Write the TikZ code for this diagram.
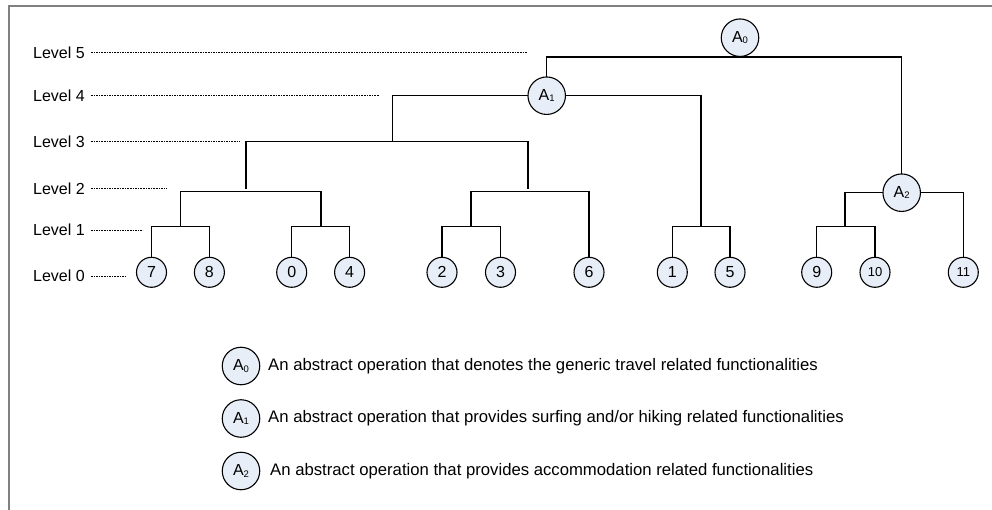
\documentclass[tikz,border=0pt]{standalone}
\usepackage{fontspec}
\setmainfont{Liberation Sans}
\definecolor{nodefill}{RGB}{232,238,247}
\definecolor{framegray}{RGB}{128,128,128}
\newcommand{\Asub}[1]{A\raisebox{-1.2pt}{\fontsize{9.5}{9.5}\selectfont #1}}
\begin{document}
\begin{tikzpicture}[x=1pt,y=-1pt,
  leaf/.style={circle, draw=black, fill=nodefill, line width=1.1pt, minimum size=30pt, inner sep=0pt, font=\fontsize{16}{16}\selectfont},
  smallleaf/.style={leaf, font=\fontsize{13}{13}\selectfont},
  abst/.style={leaf, minimum size=37.5pt, font=\fontsize{16}{16}\selectfont},
  link/.style={line width=1.3pt, line cap=rect},
  lvl/.style={anchor=west, inner sep=0pt, font=\fontsize{16}{16}\selectfont},
  dotl/.style={line width=0.5pt, dash pattern=on 1.6pt off 1pt},
  legtext/.style={anchor=west, inner sep=0pt, font=\fontsize{16.7}{16.7}\selectfont}]
\useasboundingbox (0,0) rectangle (992,510);
% frame
\draw[framegray, line width=1.6pt] (9,510) -- (9,6) -- (992,6);
% level labels
\node[lvl] (lv5) at (33,52.7) {Level 5};
\node[lvl] (lv4) at (33,95.7) {Level 4};
\node[lvl] (lv3) at (33,141.7) {Level 3};
\node[lvl] (lv2) at (33,188.3) {Level 2};
\node[lvl] (lv1) at (33,230) {Level 1};
\node[lvl] (lv0) at (33,276) {Level 0};
\coordinate (e5) at (527,52.7);
\coordinate (e4) at (379,95.7);
\coordinate (e3) at (240,141.7);
\coordinate (e2) at (167,188.3);
\coordinate (e1) at (143,230);
\coordinate (e0) at (127,276);
\draw[dotl] ([xshift=6pt]lv5.east) -- (e5);
\draw[dotl] ([xshift=6pt]lv4.east) -- (e4);
\draw[dotl] ([xshift=6pt]lv3.east) -- (e3);
\draw[dotl] ([xshift=6pt]lv2.east) -- (e2);
\draw[dotl] ([xshift=6pt]lv1.east) -- (e1);
\draw[dotl] ([xshift=6pt]lv0.east) -- (e0);
% leaves
\node[leaf] (n7) at (151.5,272.3) {7};
\node[leaf] (n8) at (209.4,272.3) {8};
\node[leaf] (n0) at (291.7,272.3) {0};
\node[leaf] (n4) at (349.6,272.3) {4};
\node[leaf] (n2) at (442,272.3) {2};
\node[leaf] (n3) at (500.5,272.3) {3};
\node[leaf] (n6) at (589,272.3) {6};
\node[leaf] (n1) at (672.3,272.3) {1};
\node[leaf] (n5) at (730,272.3) {5};
\node[leaf] (n9) at (816.7,272.3) {9};
\node[smallleaf] (n10) at (875,272.3) {10};
\node[smallleaf] (n11) at (963.3,272.3) {11};
% abstract nodes
\node[abst] (A0) at (740,37.7) {\Asub{0}};
\node[abst] (A1) at (546.7,95.7) {\Asub{1}};
\node[abst] (A2) at (901.7,192.7) {\Asub{2}};
% joints
\coordinate (b78) at (180.8,226.7);
\coordinate (b04) at (321,226.7);
\coordinate (b23) at (471,226.7);
\coordinate (b15) at (701,226.7);
\coordinate (b910) at (845,226.7);
\coordinate (L2a) at (246,191.7);
\coordinate (L2b) at (528,191.7);
\coordinate (g2a) at (246,188.3);
\coordinate (g2b) at (528,188.3);
\coordinate (L3) at (392.6,141.7);
% connectors
\draw[link] (n7.north) |- (b78) -| (n8.north);
\draw[link] (n0.north) |- (b04) -| (n4.north);
\draw[link] (n2.north) |- (b23) -| (n3.north);
\draw[link] (n1.north) |- (b15) -| (n5.north);
\draw[link] (n9.north) |- (b910) -| (n10.north);
\draw[link] (b78) |- (L2a) -| (b04);
\draw[link] (b23) |- (L2b) -| (n6.north);
\draw[link] (g2a) |- (L3) -| (g2b);
\draw[link] (L3) |- (A1.west);
\draw[link] (A1.east) -| (b15);
\draw[link] (A1.north) |- (A0.south) -| (A2.north);
\draw[link] (A2.west) -| (b910);
\draw[link] (A2.east) -| (n11.north);
% legend
\node[abst] (k0) at (241,366) {\Asub{0}};
\node[abst] (k1) at (241,418.5) {\Asub{1}};
\node[abst] (k2) at (241,471) {\Asub{2}};
\node[legtext] (t0) at (268,366) {An abstract operation that denotes the generic travel related functionalities};
\node[legtext] (t1) at (268,418.5) {An abstract operation that provides surfing and/or hiking related functionalities};
\node[legtext] (t2) at (270,471) {An abstract operation that provides accommodation related functionalities};
\end{tikzpicture}
\end{document}
